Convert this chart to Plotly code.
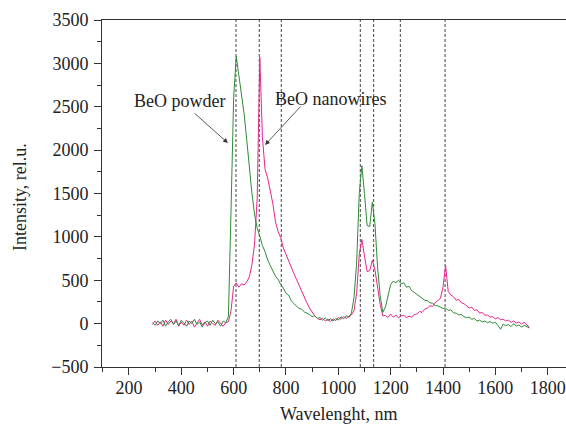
import plotly.graph_objects as go

# Wavelength grid (nm)
wavelength = list(range(290, 1740, 10))

# BeO powder (green)
powder = [
    10, -20, 30, 0, 40, -30, 20, 50, -10, 30,          # 290-380
    -20, 40, 10, -30, 30, 0, 50, -10, 20, -40,         # 390-480
    10, 30, -20, 40, 0, 20, -30, 30, 10, 80,           # 490-580
    1300, 2600, 3080, 2860, 2650, 2420, 2120, 1800, 1500, 1260,  # 590-680
    1100, 1010, 900, 830, 735, 670, 610, 545, 510, 450,  # 690-780
    410, 350, 330, 265, 230, 205, 175, 165, 135, 120,    # 790-880
    105, 80, 90, 60, 70, 40, 65, 35, 55, 30,             # 890-980
    60, 40, 80, 55, 90, 80, 120, 300, 700, 1500,         # 990-1080
    1820, 1500, 1130, 1120, 1400, 1150, 650, 320, 130, 190,  # 1090-1180
    330, 450, 490, 470, 500, 460, 470, 420, 430, 380,    # 1190-1280
    360, 340, 320, 300, 270, 265, 240, 235, 210, 205,    # 1290-1380
    190, 175, 180, 150, 160, 125, 120, 100, 105, 80,     # 1390-1480
    70, 75, 50, 60, 30, 40, 20, 30, 10, 25,              # 1490-1580
    5, 15, -20, -65, -5, -25, -10, -35, 0, -30,          # 1590-1680
    -15, -40, -20, -35, -50,                             # 1690-1730
]

# BeO nanowires (magenta)
nanowires = [
    -10, 30, -20, 20, -30, 40, -10, 30, 0, 50,           # 290-380
    -30, 20, -20, 40, -10, 30, -40, 10, 50, -20,         # 390-480
    20, -30, 30, 0, -20, 40, 0, -30, 10, 20,             # 490-580
    150, 430, 470, 420, 460, 445, 480, 540, 680, 920,    # 590-680
    1450, 3070, 2150, 1780, 1680, 1540, 1380, 1170, 1060, 990,  # 690-780
    870, 800, 720, 660, 580, 510, 440, 360, 300, 240,    # 790-880
    180, 130, 90, 60, 45, 60, 30, 50, 25, 55,            # 890-980
    35, 70, 50, 80, 60, 75, 100, 150, 350, 800,          # 990-1080
    970, 780, 600, 610, 730, 620, 430, 220, 90, 95,      # 1090-1180
    70, 110, 75, 100, 65, 90, 95, 70, 85, 75,            # 1190-1280
    105, 110, 140, 130, 165, 180, 205, 200, 240, 260,    # 1290-1380
    290, 420, 670, 370, 330, 310, 270, 280, 240, 230,    # 1390-1480
    210, 180, 190, 150, 160, 120, 130, 95, 100, 75,      # 1490-1580
    80, 55, 70, 45, 50, 30, 40, 15, 30, 5,               # 1590-1680
    20, -5, 15, -10, -40,                                # 1690-1730
]

# Reference (dashed) wavelengths
ref_lines = [609, 698, 782, 1084, 1135, 1237, 1408]

FONT = "Liberation Serif, Times New Roman, DejaVu Serif, serif"
AXC = "#333333"

fig = go.Figure()
fig.add_trace(go.Scatter(x=wavelength, y=nanowires, mode="lines",
                         line=dict(color="#e6268e", width=1), name="BeO nanowires"))
fig.add_trace(go.Scatter(x=wavelength, y=powder, mode="lines",
                         line=dict(color="#2e8b36", width=1), name="BeO powder"))

for xv in ref_lines:
    fig.add_shape(type="line", xref="x", yref="paper", x0=xv, x1=xv, y0=0, y1=1,
                  line=dict(color="#444444", width=1, dash="3px,2px"), layer="below")

annots = [
    dict(x=395, y=2566, xref="x", yref="y", text="BeO powder", showarrow=False,
         font=dict(family=FONT, size=18, color="#222")),
    dict(x=972, y=2589, xref="x", yref="y", text="BeO nanowires", showarrow=False,
         font=dict(family=FONT, size=18, color="#222")),
    dict(x=578, y=2082, ax=445, ay=2440, xref="x", yref="y", axref="x", ayref="y",
         text="", showarrow=True, arrowhead=2, arrowsize=1.2, arrowwidth=0.8, arrowcolor="#333"),
    dict(x=720, y=2059, ax=861, ay=2520, xref="x", yref="y", axref="x", ayref="y",
         text="", showarrow=True, arrowhead=2, arrowsize=1.2, arrowwidth=0.8, arrowcolor="#333"),
    dict(x=0.511, y=-0.135, xref="paper", yref="paper", xanchor="center", yanchor="middle",
         text="Wavelenght, nm", showarrow=False,
         font=dict(family=FONT, size=18, color="#222")),
    dict(x=-0.1767, y=0.49, xref="paper", yref="paper", xanchor="center", yanchor="middle",
         text="Intensity, rel.u.", showarrow=False,
         textangle=-90, font=dict(family=FONT, size=18, color="#222")),
]

fig.update_layout(
    width=566, height=428,
    margin=dict(l=102, r=0, t=20, b=61),
    plot_bgcolor="white", paper_bgcolor="white",
    showlegend=False,
    annotations=annots,
    font=dict(family=FONT, size=18, color="#222"),
)
fig.update_xaxes(range=[97, 1870], tickmode="linear", tick0=200, dtick=200,
                 showline=True, linecolor=AXC, linewidth=1, mirror=True,
                 ticks="outside", ticklen=7, tickcolor=AXC, tickwidth=1,
                 ticklabelstandoff=-3,
                 minor=dict(ticks="outside", ticklen=4, dtick=100, tick0=100, tickcolor=AXC),
                 showgrid=False, zeroline=False,
                 tickfont=dict(family=FONT, size=18, color="#222"))
fig.update_yaxes(range=[-500, 3500], tickmode="linear", tick0=-500, dtick=500,
                 showline=True, linecolor=AXC, linewidth=1,
                 ticks="outside", ticklen=7, tickcolor=AXC, tickwidth=1,
                 ticklabelstandoff=2,
                 minor=dict(ticks="outside", ticklen=4, dtick=250, tick0=-250, tickcolor=AXC),
                 showgrid=False, zeroline=False,
                 tickfont=dict(family=FONT, size=18, color="#222"))

fig.write_html("out.html", config={"displayModeBar": False},
               post_script="document.body.style.margin='0';")
